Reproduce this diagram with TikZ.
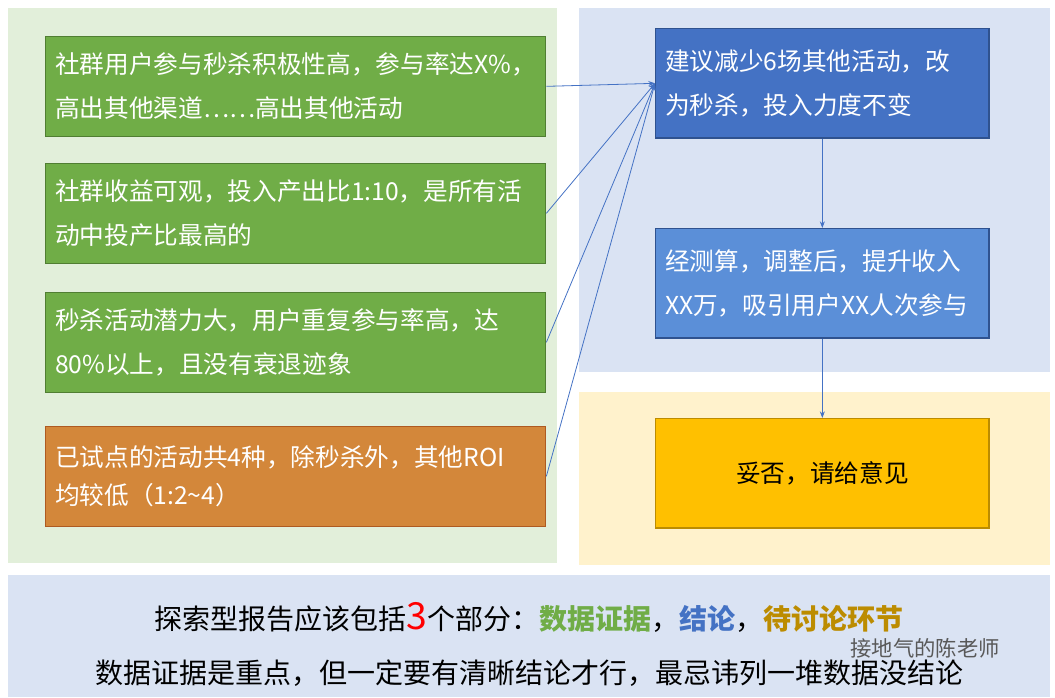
\documentclass[tikz,border=0pt]{standalone}
\usepackage{fontspec}
\setmainfont{Noto Sans CJK SC}
\usetikzlibrary{arrows.meta}
\definecolor{bggreen}{HTML}{E2EFDA}
\definecolor{bgblue}{HTML}{DAE3F3}
\definecolor{bgyellow}{HTML}{FFF2CC}
\definecolor{boxgreen}{HTML}{70AD47}
\definecolor{edgegreen}{HTML}{507E32}
\definecolor{boxorange}{HTML}{D3873A}
\definecolor{edgeorange}{HTML}{AE5A21}
\definecolor{boxblue}{HTML}{4472C4}
\definecolor{boxlblue}{HTML}{5B8FD8}
\definecolor{edgeblue}{HTML}{2F528F}
\definecolor{boxyellow}{HTML}{FFC000}
\definecolor{edgeyellow}{HTML}{BC8C00}
\definecolor{arrowblue}{HTML}{4472C4}
\tikzset{
  fact/.style={draw=edgegreen,fill=boxgreen,line width=1pt,minimum width=375pt,
    minimum height=75pt,text width=361pt,align=left,text=white,anchor=north west,
    inner xsep=4pt,inner ysep=3pt,yshift=-2pt,font=\fontsize{18.5}{33}\selectfont},
  concl/.style={draw=edgeblue,fill=boxblue,line width=1pt,minimum width=250pt,
    minimum height=82pt,text width=236pt,align=left,text=white,anchor=north west,
    inner xsep=4pt,inner ysep=3pt,font=\fontsize{18.5}{33}\selectfont},
  link/.style={arrowblue,line width=0.6pt,-{Stealth[length=5pt]}}
}
\begin{document}
\begin{tikzpicture}[x=0.75pt,y=-0.75pt]
  \useasboundingbox (0,0) rectangle (1055,697);
  % backgrounds
  \fill[bggreen] (8,8) rectangle (557,563);
  \fill[bgblue] (579,8) rectangle (1050,372);
  \fill[bgyellow] (579,392) rectangle (1050,565);
  \fill[bgblue] (8,575) rectangle (1050,697);
  % evidence
  \node[fact] (f1) at (45,33) {社群用户参与秒杀积极性高，参与率达X\%，\\高出其他渠道……高出其他活动};
  \node[fact] (f2) at (45,160) {社群收益可观，投入产出比1:10，是所有活\\动中投产比最高的};
  \node[fact] (f3) at (45,289) {秒杀活动潜力大，用户重复参与率高，达\\80\%以上，且没有衰退迹象};
  \node[fact,draw=edgeorange,fill=boxorange,font=\fontsize{18.5}{28}\selectfont] (f4) at (45,423) {已试点的活动共4种，除秒杀外，其他ROI\\均较低（1:2\textasciitilde4）};
  % conclusions
  \node[concl] (c1) at (655,28) {建议减少6场其他活动，改\\为秒杀，投入力度不变};
  \node[concl,fill=boxlblue] (c2) at (655,228) {经测算，调整后，提升收入\\XX万，吸引用户XX人次参与};
  \node[concl,draw=edgeyellow,fill=boxyellow,text=black,align=center] (c3) at (655,418) {妥否，请给意见};
  % links
  \foreach \f in {f1,f2,f3,f4}
    \draw[link] (\f.east) -- (c1.west);
  \draw[link] (c1) -- (c2);
  \draw[link] (c2) -- (c3);
  % summary
  \node[font=\fontsize{21}{24}\selectfont] (s1) at (529,617) {探索型报告应该包括{\color{red}\fontsize{28}{28}\selectfont 3}个部分：{\color{boxgreen}\bfseries 数据证据}，{\color{boxblue}\bfseries 结论}，{\color{edgeyellow}\bfseries 待讨论环节}};
  \node[font=\fontsize{21}{24}\selectfont] (s2) at (529,673) {数据证据是重点，但一定要有清晰结论才行，最忌讳列一堆数据没结论};
  \node[font=\fontsize{16}{20}\selectfont,text=gray!70!black] (wm) at (925,648) {接地气的陈老师};
\end{tikzpicture}
\end{document}
